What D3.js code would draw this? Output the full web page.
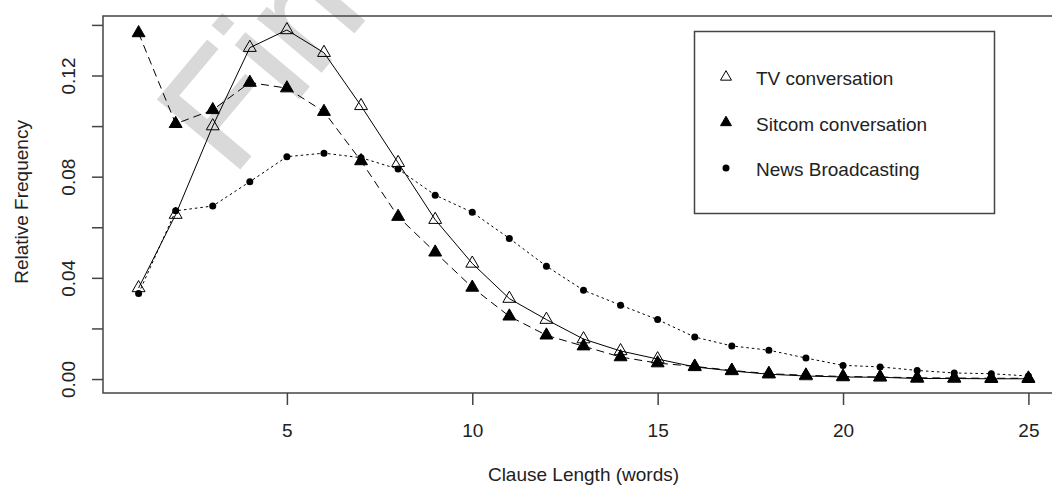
<!DOCTYPE html>
<html>
<head>
<meta charset="utf-8">
<script src="https://cdn.jsdelivr.net/npm/d3@7"></script>
<style>
  body { margin: 0; background: #fff; }
  svg text { font-family: "Liberation Sans", Arial, sans-serif; fill: #222; }
</style>
</head>
<body>
<div id="chart"></div>
<script>
// clause length 1..25 words
var clauseLength = d3.range(1, 26);

var tvConv = [0.036, 0.065, 0.100, 0.131, 0.138, 0.129, 0.108, 0.0855, 0.063, 0.0457,
  0.0318, 0.0235, 0.0158, 0.0111, 0.0079, 0.0048, 0.0032, 0.0019, 0.0012, 0.0008,
  0.0007, 0.0002, 0.0002, 0.0001, 0.0001];
var sitcomConv = [0.1368, 0.1009, 0.1064, 0.1172, 0.115, 0.1057, 0.0862, 0.0642, 0.0501, 0.0362,
  0.0248, 0.0173, 0.013, 0.0087, 0.0063, 0.005, 0.0034, 0.0021, 0.0015, 0.001,
  0.0008, 0.0005, 0.0004, 0.0003, 0.0003];
var newsBroad = [0.0338, 0.0665, 0.0684, 0.078, 0.0879, 0.0893, 0.0875, 0.083, 0.0727, 0.0659,
  0.0556, 0.0446, 0.0351, 0.0292, 0.0235, 0.0166, 0.0131, 0.0114, 0.0083, 0.0054,
  0.0048, 0.0034, 0.0024, 0.0021, 0.0012];

var seriesNames = ["TV conversation", "Sitcom conversation", "News Broadcasting"];
var xTicks = [5, 10, 15, 20, 25];
var yTicks = [0, 0.02, 0.04, 0.06, 0.08, 0.10, 0.12, 0.14];
var yLabelled = [0, 0.04, 0.08, 0.12];

var W = 1052, H = 486;
var plot = {left: 103, top: 16, right: 1064, bottom: 393};

var svg = d3.select("#chart").append("svg")
  .attr("width", W)
  .attr("height", H);

// R style 4% padding on each axis
var yMax = d3.max([].concat(tvConv, sitcomConv, newsBroad));
var xScale = d3.scaleLinear().domain([1 - 0.04 * 24, 25 + 0.04 * 24]).range([plot.left, plot.right]);
var yScale = d3.scaleLinear().domain([-0.04 * yMax, yMax * 1.04]).range([plot.bottom, plot.top]);

// faint watermark left on the source image
svg.append("text")
  .attr("transform", "translate(232,177) rotate(-50)")
  .style("font-size", "154px")
  .style("fill", "#d9d9d9")
  .style("stroke", "#d9d9d9")
  .style("stroke-width", 3)
  .text("Fin");

// axes
var yAxis = d3.axisLeft(yScale)
  .tickValues(yTicks)
  .tickSize(11)
  .tickFormat(function(d) {
    return yLabelled.some(function(v) { return Math.abs(v - d) < 1e-9; }) ? d3.format(".2f")(d) : "";
  });

var gy = svg.append("g")
  .attr("transform", "translate(" + plot.left + ",0)")
  .call(yAxis);
gy.select(".domain").remove();
gy.selectAll("line").attr("stroke", "#444").attr("stroke-width", 1.5);
gy.selectAll("text")
  .attr("transform", "rotate(-90)")
  .attr("x", 0)
  .attr("y", -28)
  .attr("dy", 0)
  .attr("text-anchor", "middle")
  .style("font-size", "19px")
  .style("font-family", "'Liberation Sans', Arial, sans-serif")
  .attr("fill", "#222");

var xAxis = d3.axisBottom(xScale)
  .tickValues(xTicks)
  .tickSize(12)
  .tickFormat(d3.format("d"));

var gx = svg.append("g")
  .attr("transform", "translate(0," + plot.bottom + ")")
  .call(xAxis);
gx.select(".domain").remove();
gx.selectAll("line").attr("stroke", "#444").attr("stroke-width", 1.5);
gx.selectAll("text")
  .attr("y", 44)
  .attr("dy", 0)
  .style("font-size", "19px")
  .style("font-family", "'Liberation Sans', Arial, sans-serif")
  .attr("fill", "#222");

// plot frame
svg.append("rect")
  .attr("x", plot.left)
  .attr("y", plot.top)
  .attr("width", plot.right - plot.left)
  .attr("height", plot.bottom - plot.top)
  .attr("fill", "none")
  .attr("stroke", "#444")
  .attr("stroke-width", 1.5);

// axis titles
svg.append("text")
  .attr("x", xScale(13))
  .attr("y", 481)
  .attr("text-anchor", "middle")
  .style("font-size", "19px")
  .text("Clause Length (words)");

svg.append("text")
  .attr("transform", "translate(28," + yScale(0.07) + ") rotate(-90)")
  .attr("text-anchor", "middle")
  .style("font-size", "19px")
  .text("Relative Frequency");

// series
var series = [
  {name: seriesNames[0], values: tvConv, dash: null, mark: "open"},
  {name: seriesNames[1], values: sitcomConv, dash: "8,5", mark: "filled"},
  {name: seriesNames[2], values: newsBroad, dash: "2.5,3", mark: "dot"}
];

var line = d3.line()
  .x(function(d, i) { return xScale(clauseLength[i]); })
  .y(function(d) { return yScale(d); });

var triangle = d3.symbol().type(d3.symbolTriangle).size(72);
var smallTriangle = d3.symbol().type(d3.symbolTriangle).size(52);

function drawMarks(g, s, xs, ys, legend) {
  if (s.mark === "dot") {
    g.append("circle")
      .attr("cx", xs).attr("cy", ys).attr("r", 3.5)
      .attr("fill", "#000");
  } else {
    g.append("path")
      .attr("transform", "translate(" + xs + "," + ys + ")")
      .attr("d", legend ? smallTriangle() : triangle())
      .attr("fill", s.mark === "filled" ? "#000" : "none")
      .attr("stroke", "#000")
      .attr("stroke-width", 1);
  }
}

series.forEach(function(s) {
  var g = svg.append("g");
  g.append("path")
    .datum(s.values)
    .attr("d", line)
    .attr("fill", "none")
    .attr("stroke", "#000")
    .attr("stroke-width", 1)
    .attr("stroke-dasharray", s.dash);
  s.values.forEach(function(v, i) {
    drawMarks(g, s, xScale(clauseLength[i]), yScale(v), false);
  });
});

// legend
var legend = svg.append("g");
legend.append("rect")
  .attr("x", 694.5).attr("y", 31.5)
  .attr("width", 300).attr("height", 182)
  .attr("fill", "#fff")
  .attr("stroke", "#444")
  .attr("stroke-width", 1.5);

series.forEach(function(s, i) {
  var cy = 77 + i * 45.5;
  drawMarks(legend, s, 726, cy, true);
  legend.append("text")
    .attr("x", 756)
    .attr("y", cy + 8)
    .style("font-size", "19px")
    .text(s.name);
});
</script>
</body>
</html>
